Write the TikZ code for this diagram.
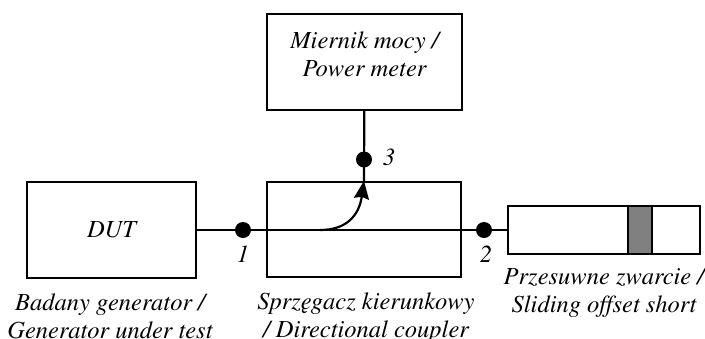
\documentclass[tikz,border=0pt]{standalone}
\usepackage[T1]{fontenc}
\usepackage{mathptmx}
\usetikzlibrary{arrows.meta,positioning}
\tikzset{
  blk/.style={rectangle,draw,line width=2.2pt,inner sep=0pt,
              font=\itshape\fontsize{24.5}{28}\selectfont,align=center},
  port/.style={circle,fill,inner sep=0pt,minimum size=16pt},
  num/.style={font=\itshape\fontsize{24.5}{28}\selectfont,inner sep=0pt},
  desc/.style={font=\itshape\fontsize{24.5}{28}\selectfont,align=center,
               inner sep=0pt,anchor=north},
  wire/.style={line width=2.2pt},
}
\begin{document}
\begin{tikzpicture}[x=1pt,y=-1pt]
  \useasboundingbox (0,0) rectangle (705,338);

  % blocks
  \node[blk,minimum width=169pt,minimum height=96pt] (dut) at (111.5,230){DUT};
  \node[blk,minimum width=194pt,minimum height=95pt] (coupler) at (364,229.5){};
  \node[blk,minimum width=195pt,minimum height=96pt] (meter) at (364.5,62){};
  \node[blk,minimum width=192pt,minimum height=48pt] (short) at (604,230){};
  \node[blk,fill=black!50,minimum width=24pt,minimum height=48pt] (plunger) at (640,230){};

  \node[desc,anchor=center] (meterlbl) at ([yshift=8pt]meter.center){Miernik mocy /\\Power meter};

  % lines
  \draw[wire] (dut) -- (short);
  \draw[wire] (meter) -- (coupler.north);
  \coordinate (tap) at (320,230);
  \draw[wire,-{Stealth[length=18pt,width=15pt,inset=2pt]}] (tap)
    .. controls (346,230) and (359,216) .. (coupler.north);

  % ports
  \node[port] (p1) at (243,230){};
  \node[port] (p2) at (484,230){};
  \node[port] (p3) at (364,159.5){};
  \node[num] (n1) at (243,254){1};
  \node[num] (n2) at (486,254){2};
  \node[num] (n3) at (389,157){3};

  % captions
  \node[desc] (dutlbl) at (110,293.5){Badany generator /\\Generator under test};
  \node[desc] (couplbl) at (366,292.5){Sprz\k{e}gacz kierunkowy\\/ Directional coupler};
  \node[desc] (shortlbl) at (604,268){Przesuwne zwarcie /\\Sliding offset short};
\end{tikzpicture}
\end{document}
